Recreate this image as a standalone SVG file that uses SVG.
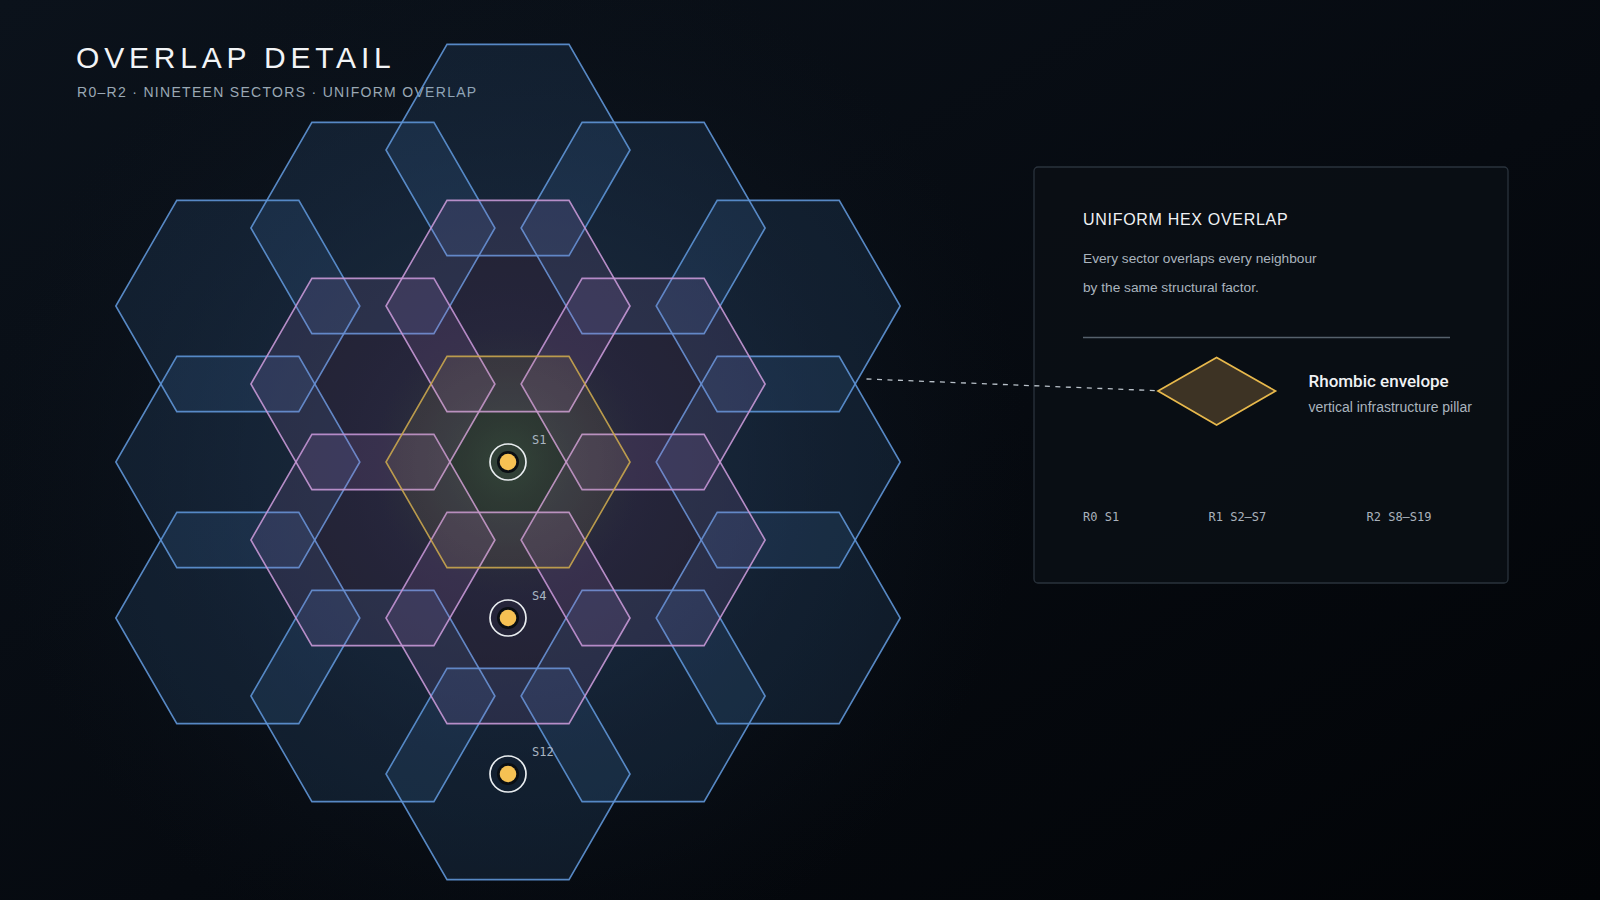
<svg xmlns="http://www.w3.org/2000/svg" xmlns:xlink="http://www.w3.org/1999/xlink" width="1600" height="900" viewBox="0 0 1600 900">
  <defs>
    <linearGradient id="bgLin" x1="0" y1="0" x2="1" y2="1">
      <stop offset="0" stop-color="#0b121b"/>
      <stop offset="0.55" stop-color="#060a10"/>
      <stop offset="1" stop-color="#020407"/>
    </linearGradient>
    <radialGradient id="glow" cx="508" cy="462" r="520" gradientUnits="userSpaceOnUse">
      <stop offset="0" stop-color="#1a2232" stop-opacity="0.95"/>
      <stop offset="0.45" stop-color="#121b28" stop-opacity="0.6"/>
      <stop offset="1" stop-color="#0b121b" stop-opacity="0"/>
    </radialGradient>
    <radialGradient id="coreGlow" cx="508" cy="462" r="135" gradientUnits="userSpaceOnUse">
      <stop offset="0" stop-color="#2a4a3a" stop-opacity="0.6"/>
      <stop offset="0.6" stop-color="#22382e" stop-opacity="0.3"/>
      <stop offset="1" stop-color="#1a2a24" stop-opacity="0"/>
    </radialGradient>
    <polygon id="hex" points="122,0 61,105.66 -61,105.66 -122,0 -61,-105.66 61,-105.66"/>
    <style>
      .r2 { fill: #4a88d4; fill-opacity: 0.13; stroke: #5f95d6; stroke-width: 1.6; stroke-opacity: 0.9; }
      .r1 { fill: #b07ccc; fill-opacity: 0.13; stroke: #c698d6; stroke-width: 1.6; stroke-opacity: 0.9; }
      .r0 { fill: #d6b255; fill-opacity: 0.09; stroke: #c9a64e; stroke-width: 1.6; stroke-opacity: 0.9; }
      .ring { fill: none; stroke: #e9edf0; stroke-width: 1.7; }
      .hole { fill: #0a0e13; }
      .core { fill: #f6c153; }
      .slabel { font-family: "DejaVu Sans Mono", "Liberation Mono", monospace; font-size: 12px; fill: #a9b5c1; }
      .sans { font-family: "Liberation Sans", Arial, sans-serif; }
      .mono { font-family: "DejaVu Sans Mono", "Liberation Mono", monospace; }
    </style>
  </defs>

  <rect width="1600" height="900" fill="url(#bgLin)"/>
  <rect width="1600" height="900" fill="url(#glow)"/>
  <circle cx="508" cy="462" r="135" fill="url(#coreGlow)"/>

  <g id="title">
    <text x="76" y="68" class="sans" font-size="30" letter-spacing="4.8" fill="#f2f4f6">OVERLAP DETAIL</text>
    <text x="77" y="97" class="sans" font-size="14" letter-spacing="1.3" fill="#9aa8b4">R0–R2 · NINETEEN SECTORS · UNIFORM OVERLAP</text>
  </g>

  <g id="ring2">
    <g id="S8"><use xlink:href="#hex" href="#hex" x="778.2" y="306" class="r2"/></g>
    <g id="S9"><use xlink:href="#hex" href="#hex" x="778.2" y="462" class="r2"/></g>
    <g id="S10"><use xlink:href="#hex" href="#hex" x="778.2" y="618" class="r2"/></g>
    <g id="S11"><use xlink:href="#hex" href="#hex" x="643.1" y="696" class="r2"/></g>
    <g id="S12"><use xlink:href="#hex" href="#hex" x="508" y="774" class="r2"/></g>
    <g id="S13"><use xlink:href="#hex" href="#hex" x="372.9" y="696" class="r2"/></g>
    <g id="S14"><use xlink:href="#hex" href="#hex" x="237.8" y="618" class="r2"/></g>
    <g id="S15"><use xlink:href="#hex" href="#hex" x="237.8" y="462" class="r2"/></g>
    <g id="S16"><use xlink:href="#hex" href="#hex" x="237.8" y="306" class="r2"/></g>
    <g id="S17"><use xlink:href="#hex" href="#hex" x="372.9" y="228" class="r2"/></g>
    <g id="S18"><use xlink:href="#hex" href="#hex" x="508" y="150" class="r2"/></g>
    <g id="S19"><use xlink:href="#hex" href="#hex" x="643.1" y="228" class="r2"/></g>
  </g>

  <g id="ring1">
    <g id="S2"><use xlink:href="#hex" href="#hex" x="643.1" y="384" class="r1"/></g>
    <g id="S3"><use xlink:href="#hex" href="#hex" x="643.1" y="540" class="r1"/></g>
    <g id="S4"><use xlink:href="#hex" href="#hex" x="508" y="618" class="r1"/></g>
    <g id="S5"><use xlink:href="#hex" href="#hex" x="372.9" y="540" class="r1"/></g>
    <g id="S6"><use xlink:href="#hex" href="#hex" x="372.9" y="384" class="r1"/></g>
    <g id="S7"><use xlink:href="#hex" href="#hex" x="508" y="306" class="r1"/></g>
  </g>

  <g id="S1"><use xlink:href="#hex" href="#hex" x="508" y="462" class="r0"/></g>

  <g id="markers">
    <g id="marker-S1">
      <circle cx="508" cy="462" r="11" class="hole"/>
      <circle cx="508" cy="462" r="8.3" class="core"/>
      <circle cx="508" cy="462" r="18" class="ring"/>
      <text x="532" y="444" class="slabel">S1</text>
    </g>
    <g id="marker-S4">
      <circle cx="508" cy="618" r="11" class="hole"/>
      <circle cx="508" cy="618" r="8.3" class="core"/>
      <circle cx="508" cy="618" r="18" class="ring"/>
      <text x="532" y="600" class="slabel">S4</text>
    </g>
    <g id="marker-S12">
      <circle cx="508" cy="774" r="11" class="hole"/>
      <circle cx="508" cy="774" r="8.3" class="core"/>
      <circle cx="508" cy="774" r="18" class="ring"/>
      <text x="532" y="756" class="slabel">S12</text>
    </g>
  </g>

  <g id="panel">
    <rect x="1034" y="167" width="474" height="416" rx="4" fill="#0a0f15" fill-opacity="0.85" stroke="#2a333d" stroke-width="1.3"/>
    <text x="1083" y="225" class="sans" font-size="16" letter-spacing="0.7" fill="#f0f2f4">UNIFORM HEX OVERLAP</text>
    <text x="1083" y="263" class="sans" font-size="13.7" fill="#aab4be">Every sector overlaps every neighbour</text>
    <text x="1083" y="292" class="sans" font-size="13.7" fill="#aab4be">by the same structural factor.</text>
    <line x1="1083" y1="337.5" x2="1450" y2="337.5" stroke="#56616c" stroke-width="1.6"/>
  </g>

  <g id="pillar">
    <polygon points="1158,391 1216.6,357.5 1275.5,391 1216.6,425" fill="#3d3324" stroke="#e8b94c" stroke-width="1.7"/>
    <text x="1308.5" y="387" font-family="Roboto, 'Liberation Sans', sans-serif" font-size="17" font-weight="500" fill="#f0f2f4">Rhombic envelope</text>
    <text x="1308.5" y="412" class="sans" font-size="14" fill="#aab4be">vertical infrastructure pillar</text>
  </g>

  <g id="legend">
    <text x="1083" y="521" class="mono" font-size="12" fill="#a9b2bc">R0 S1</text>
    <text x="1208.5" y="521" class="mono" font-size="12" fill="#a9b2bc">R1 S2–S7</text>
    <text x="1366.5" y="521" class="mono" font-size="12" fill="#a9b2bc">R2 S8–S19</text>
  </g>

  <g id="connectors">
    <line x1="866.5" y1="379" x2="1157" y2="390.7" stroke="#b9c1c9" stroke-width="1.3" stroke-dasharray="5 5.5"/>
  </g>
</svg>
